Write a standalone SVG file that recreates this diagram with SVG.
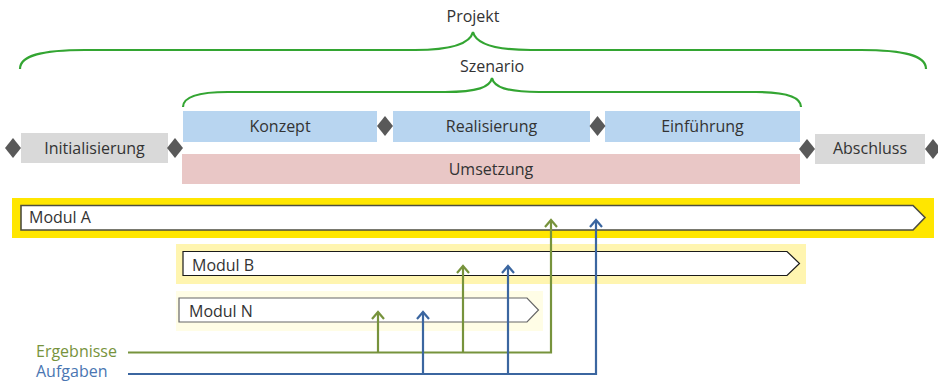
<svg xmlns="http://www.w3.org/2000/svg" width="938" height="382" viewBox="0 0 938 382">
  <style>
    text { font-family: "Open Sans", "Noto Sans", "Liberation Sans", sans-serif; font-size: 16px; fill: #333333; }
    .c { text-anchor: middle; }
    .brace { fill: none; stroke: #33A532; stroke-width: 2.2; }
    .phase { fill: #B8D5F0; }
    .frame { fill: #D9D9D9; }
    .impl { fill: #E9C7C6; }
    .ms { fill: #595959; }
    .mod { fill: #FFFFFF; stroke-linejoin: miter; }
    .green { fill: none; stroke: #77933C; stroke-width: 2.2; }
    .blue { fill: none; stroke: #3B66A0; stroke-width: 2.2; }
  </style>
  <defs>
    <marker id="headG" markerUnits="userSpaceOnUse" markerWidth="12" markerHeight="16" refX="10" refY="8" orient="auto" viewBox="0 0 12 16">
      <polyline points="3,2 10,8 3,14" fill="none" stroke="#77933C" stroke-width="2.2"/>
    </marker>
    <marker id="headB" markerUnits="userSpaceOnUse" markerWidth="12" markerHeight="16" refX="10" refY="8" orient="auto" viewBox="0 0 12 16">
      <polyline points="3,2 10,8 3,14" fill="none" stroke="#3B66A0" stroke-width="2.2"/>
    </marker>
  </defs>

  <!-- braces -->
  <g id="projekt">
    <path class="brace" d="M20,69 C20,56 40,50 85,50 L415,50 C452,50 470,44 473,32 C476,44 494,50 531,50 L861,50 C906,50 926,56 926,69"/>
    <text class="c" x="473" y="22">Projekt</text>
  </g>
  <g id="szenario">
    <path class="brace" d="M183,107 C183,97 198,92 228,92 L445,92 C478,92 490,87 492,78 C494,87 506,92 539,92 L756,92 C786,92 801,97 801,107"/>
    <text class="c" x="492" y="72">Szenario</text>
  </g>

  <!-- phases -->
  <g id="initialisierung">
    <rect class="frame" x="21" y="133" width="147" height="30"/>
    <text class="c" x="94.5" y="154">Initialisierung</text>
  </g>
  <g id="konzept">
    <rect class="phase" x="183" y="111" width="194" height="31"/>
    <text class="c" x="280" y="132">Konzept</text>
  </g>
  <g id="realisierung">
    <rect class="phase" x="393" y="111" width="197" height="31"/>
    <text class="c" x="491.5" y="132">Realisierung</text>
  </g>
  <g id="einfuehrung">
    <rect class="phase" x="605" y="111" width="195" height="31"/>
    <text class="c" x="702.5" y="132">Einführung</text>
  </g>
  <g id="umsetzung">
    <rect class="impl" x="182" y="154" width="618" height="30"/>
    <text class="c" x="491" y="175">Umsetzung</text>
  </g>
  <g id="abschluss">
    <rect class="frame" x="815" y="134" width="110" height="30"/>
    <text class="c" x="870" y="154">Abschluss</text>
  </g>

  <!-- milestones -->
  <g id="meilensteine">
    <polygon class="ms" points="13,138 21,148 13,158 5,148"/>
    <polygon class="ms" points="175,138 183,148 175,158 167,148"/>
    <polygon class="ms" points="385,116 393,126 385,136 377,126"/>
    <polygon class="ms" points="597.5,116 605.5,126 597.5,136 589.5,126"/>
    <polygon class="ms" points="807,139 815,149 807,159 799,149"/>
    <polygon class="ms" points="933,139 941,149 933,159 925,149"/>
  </g>

  <!-- modules -->
  <g id="modul-a">
    <rect x="12" y="198" width="922" height="40" fill="#FFE600"/>
    <polygon class="mod" points="21,205.5 913,205.5 925,217.5 913,230 21,230" stroke="#4D4D40" stroke-width="1.6"/>
    <text x="29" y="223">Modul A</text>
  </g>
  <g id="modul-b">
    <rect x="176" y="244" width="630" height="40" fill="#FFF5B0"/>
    <polygon class="mod" points="183,251.5 787,251.5 799.5,263.5 787,275.5 183,275.5" stroke="#1A1A1A" stroke-width="1.2"/>
    <text x="192" y="271">Modul B</text>
  </g>
  <g id="modul-n">
    <rect x="176" y="291" width="367" height="40" fill="#FFFDE6"/>
    <polygon class="mod" points="179,298 527,298 538.5,310 527,322 179,322" stroke="#666666" stroke-width="1.2"/>
    <text x="189" y="316.5">Modul N</text>
  </g>

  <!-- legend -->
  <g id="legende">
    <text x="36" y="357" style="fill:#77933C">Ergebnisse</text>
    <text x="36" y="377" style="fill:#4A76B2">Aufgaben</text>
  </g>

  <!-- connectors -->
  <g id="verbindungen">
    <path class="green" d="M128,352.5 H551 V220" marker-end="url(#headG)"/>
    <path class="green" d="M378,352.5 V312" marker-end="url(#headG)"/>
    <path class="green" d="M463,352.5 V266" marker-end="url(#headG)"/>
    <path class="blue" d="M128,374 H596 V220" marker-end="url(#headB)"/>
    <path class="blue" d="M423,374 V312" marker-end="url(#headB)"/>
    <path class="blue" d="M508,374 V266" marker-end="url(#headB)"/>
  </g>
</svg>
